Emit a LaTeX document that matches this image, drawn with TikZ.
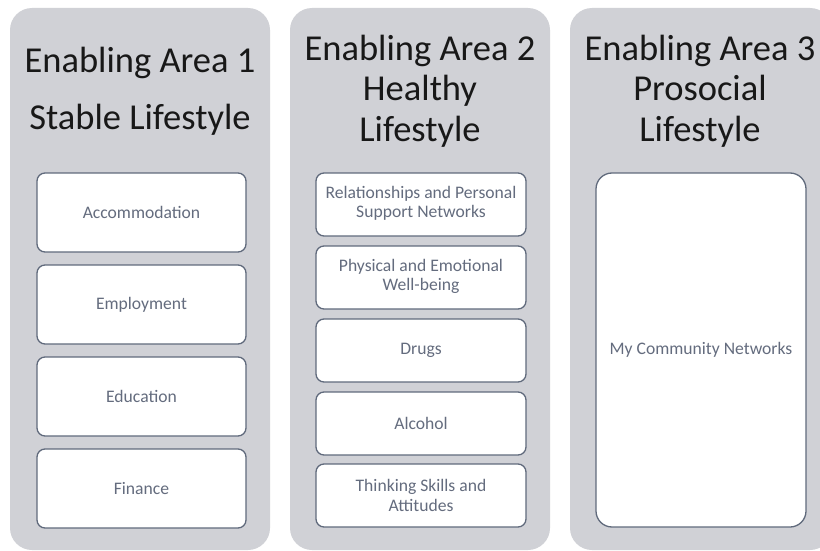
\documentclass[tikz,border=0pt]{standalone}
\usepackage{fontspec}
\setmainfont{Carlito}
\definecolor{colgrey}{RGB}{208,209,214}
\definecolor{boxline}{RGB}{96,106,124}
\definecolor{boxtext}{RGB}{100,108,126}
\definecolor{titletext}{RGB}{24,24,24}
\tikzset{
  column/.style={fill=colgrey, draw=none, rounded corners=22pt},
  item/.style={fill=white, draw=boxline, line width=1.3pt, rounded corners=8pt},
  bigitem/.style={fill=white, draw=boxline, line width=1.3pt, rounded corners=16pt},
  itemtext/.style={text=boxtext, font=\fontsize{17.6}{19.5}\selectfont, align=center, inner sep=0pt},
  title/.style={text=titletext, font=\fontsize{36.5}{40}\selectfont, anchor=base, inner sep=0pt}
}
\begin{document}
\begin{tikzpicture}[x=1pt,y=-1pt]
\useasboundingbox (0,0) rectangle (820,551);
\clip (0,0) rectangle (820,551);
\fill[white] (0,0) rectangle (820,551);
% columns
\path[column] (10,8) rectangle (270,550);
\path[column] (290,8) rectangle (550,550);
\path[column] (570,8) rectangle (832,550);
% titles
\node[title] (t1a) at (140,73) {Enabling Area 1};
\node[title] (t1b) at (140,129) {Stable Lifestyle};
\node[title] (t2a) at (420,61) {Enabling Area 2};
\node[title] (t2b) at (420,101) {Healthy};
\node[title] (t2c) at (420,141) {Lifestyle};
\node[title] (t3a) at (700,61) {Enabling Area 3};
\node[title] (t3b) at (700,101) {Prosocial};
\node[title] (t3c) at (700,141) {Lifestyle};
% column 1 boxes
\path[item] (37,173) rectangle (246,252);
\path[item] (37,265) rectangle (246,344);
\path[item] (37,357) rectangle (246,436);
\path[item] (37,449) rectangle (246,528);
\node[itemtext] (a1) at (141.5,212.5) {Accommodation};
\node[itemtext] (a2) at (141.5,304.5) {Employment};
\node[itemtext] (a3) at (141.5,396.5) {Education};
\node[itemtext] (a4) at (141.5,488.5) {Finance};
% column 2 boxes
\path[item] (316,173) rectangle (526,236);
\path[item] (316,246) rectangle (526,309);
\path[item] (316,319) rectangle (526,382);
\path[item] (316,392) rectangle (526,455);
\path[item] (316,464) rectangle (526,527);
\node[itemtext] (b1) at (421,203.5) {Relationships and Personal\\Support Networks};
\node[itemtext] (b2) at (421,276.5) {Physical and Emotional\\Well-being};
\node[itemtext] (b3) at (421,350.5) {Drugs};
\node[itemtext] (b4) at (421,423.5) {Alcohol};
\node[itemtext] (b5) at (421,495.5) {Thinking Skills and\\Attitudes};
% column 3 box
\path[bigitem] (596,173) rectangle (806,527);
\node[itemtext] (c1) at (701,350) {My Community Networks};
\end{tikzpicture}
\end{document}
